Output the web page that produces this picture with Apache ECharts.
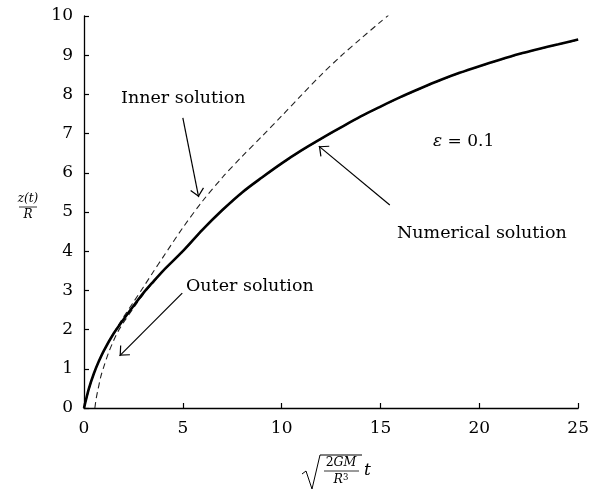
<!DOCTYPE html>
<html>
<head>
<meta charset="utf-8">
<script src="https://cdn.jsdelivr.net/npm/echarts@6/dist/echarts.min.js"></script>
<style>
html,body{margin:0;padding:0;background:#fff;}
#c{width:592px;height:497px;}
</style>
</head>
<body>
<div id="c"></div>
<script>
// ---- data ----
var xTicks = [0, 5, 10, 15, 20, 25];
var yTicks = [0, 1, 2, 3, 4, 5, 6, 7, 8, 9, 10];

var numX = [0,0.25,0.5,0.75,1,1.5,2,2.5,3,3.5,4,5,6,7,8,9,10,11,12,13,14,15,16,17,18,19,20,21,22,23,24,25];
var numY = [0,0.5,0.88,1.19,1.46,1.9,2.26,2.6,2.93,3.22,3.5,4.0,4.55,5.05,5.5,5.88,6.24,6.57,6.87,7.16,7.44,7.69,7.93,8.15,8.36,8.55,8.72,8.88,9.03,9.16,9.28,9.4];

var innerX = [0,0.5,1,1.5,2,2.5,3,3.5,4,5,6,7,8,9,10,11,12,13,14,15,15.4];
var innerY = [0,0.88,1.46,1.91,2.32,2.7,3.08,3.47,3.85,4.6,5.28,5.88,6.42,6.93,7.45,7.98,8.5,8.98,9.42,9.85,10.02];

var outerX = [0.55,0.62,0.72,0.85,1,1.25,1.5,1.75,2,2.5,3,3.5,4,5,6,7,8,9,10,11,12,13,14,15,16,17,18,19,20,21,22,23,24,25];
var outerY = [0,0.25,0.5,0.8,1.05,1.42,1.72,1.98,2.18,2.55,2.9,3.2,3.49,3.99,4.54,5.04,5.49,5.87,6.23,6.56,6.86,7.15,7.43,7.68,7.92,8.14,8.35,8.54,8.71,8.87,9.02,9.15,9.27,9.39];

function pairs(xs, ys) { return xs.map(function (x, i) { return [x, ys[i]]; }); }

var FONT = '"DejaVu Serif", "Liberation Serif", serif';
var chevron = 'path://M7,0 L7,0 M7,8.5 L14,16.2 L13.1,17 L7,10.3 L0.9,17 L0,16.2 Z';

var chart = echarts.init(document.getElementById('c'), null, {renderer: 'canvas'});

var axisCommon = {
  type: 'value',
  axisLine: {show: true, lineStyle: {color: '#000', width: 1.3}},
  axisTick: {show: true, inside: true, length: 5, lineStyle: {color: '#000', width: 1.2}},
  splitLine: {show: false},
  axisLabel: {color: '#000', fontSize: 17, fontFamily: FONT, margin: 11}
};

var option = {
  animation: false,
  backgroundColor: '#fff',
  grid: {left: 84, right: 8, top: 16, bottom: 89, containLabel: false},
  xAxis: Object.assign({}, axisCommon, {
    min: xTicks[0], max: xTicks[xTicks.length - 1], interval: 5,
    axisLabel: Object.assign({}, axisCommon.axisLabel, {margin: 12})
  }),
  yAxis: Object.assign({}, axisCommon, {
    min: yTicks[0], max: yTicks[yTicks.length - 1], interval: 1
  }),
  series: [
    {
      name: 'Outer solution', type: 'line', data: pairs(outerX, outerY),
      showSymbol: false, smooth: 0.3, z: 2,
      lineStyle: {color: '#222', width: 1.1, type: [6, 4]}
    },
    {
      name: 'Inner solution', type: 'line', data: pairs(innerX, innerY),
      showSymbol: false, smooth: 0.3, z: 2,
      lineStyle: {color: '#222', width: 1.1, type: [6, 4]}
    },
    {
      name: 'Numerical solution', type: 'line', data: pairs(numX, numY),
      showSymbol: false, smooth: 0.3, z: 3,
      lineStyle: {color: '#000', width: 2.6},
      markLine: {
        silent: true,
        symbol: ['none', chevron],
        symbolSize: [14, 17],
        label: {show: false},
        lineStyle: {color: '#000', width: 1.2, type: 'solid'},
        data: [
          [{coord: [5.0, 7.4]}, {coord: [5.8, 5.38]}],
          [{coord: [4.97, 2.93]}, {coord: [1.8, 1.33]}],
          [{coord: [15.47, 5.18]}, {coord: [11.88, 6.68]}]
        ]
      }
    }
  ],
  graphic: [
    {type: 'text', x: 121, y: 98, style: {text: 'Inner solution', fontSize: 17.5, fontFamily: FONT, fill: '#000', verticalAlign: 'middle'}},
    {type: 'text', x: 186, y: 286, style: {text: 'Outer solution', fontSize: 17.5, fontFamily: FONT, fill: '#000', verticalAlign: 'middle'}},
    {type: 'text', x: 397, y: 233, style: {text: 'Numerical solution', fontSize: 17.5, fontFamily: FONT, fill: '#000', verticalAlign: 'middle'}},
    {type: 'text', x: 433, y: 142, style: {text: '{e|ε} = 0.1', fontSize: 17, fontFamily: FONT, fill: '#000', verticalAlign: 'middle',
      rich: {e: {fontStyle: 'italic', fontSize: 17, fontFamily: FONT}}}},
    // y-axis label: z(t)/R
    {type: 'text', x: 28, y: 199, style: {text: 'z(t)', fontSize: 12, fontStyle: 'italic', fontFamily: FONT, fill: '#000', align: 'center', verticalAlign: 'middle'}},
    {type: 'line', shape: {x1: 19, y1: 207, x2: 37, y2: 207}, style: {stroke: '#000', lineWidth: 0.8}},
    {type: 'text', x: 28, y: 215, style: {text: 'R', fontSize: 12, fontStyle: 'italic', fontFamily: FONT, fill: '#000', align: 'center', verticalAlign: 'middle'}},
    // x-axis label: sqrt(2GM/R^3) t
    {type: 'polyline', shape: {points: [[302, 474], [306, 471], [312, 489], [320, 455], [362, 455]]}, style: {stroke: '#000', lineWidth: 1, fill: null}},
    {type: 'text', x: 341, y: 463, style: {text: '2{i|GM}', fontSize: 12.5, fontFamily: FONT, fill: '#000', align: 'center', verticalAlign: 'middle',
      rich: {i: {fontStyle: 'italic', fontSize: 12.5, fontFamily: FONT}}}},
    {type: 'line', shape: {x1: 324, y1: 471, x2: 359, y2: 471}, style: {stroke: '#000', lineWidth: 0.8}},
    {type: 'text', x: 341, y: 480, style: {text: '{i|R}{s|3}', fontSize: 12.5, fontFamily: FONT, fill: '#000', align: 'center', verticalAlign: 'middle',
      rich: {i: {fontStyle: 'italic', fontSize: 12.5, fontFamily: FONT}, s: {fontSize: 8.5, fontFamily: FONT, verticalAlign: 'top', padding: [0, 0, 5, 0]}}}},
    {type: 'text', x: 364, y: 471, style: {text: 't', fontSize: 17, fontStyle: 'italic', fontFamily: FONT, fill: '#000', verticalAlign: 'middle'}}
  ]
};
chart.setOption(option);
</script>
</body>
</html>
